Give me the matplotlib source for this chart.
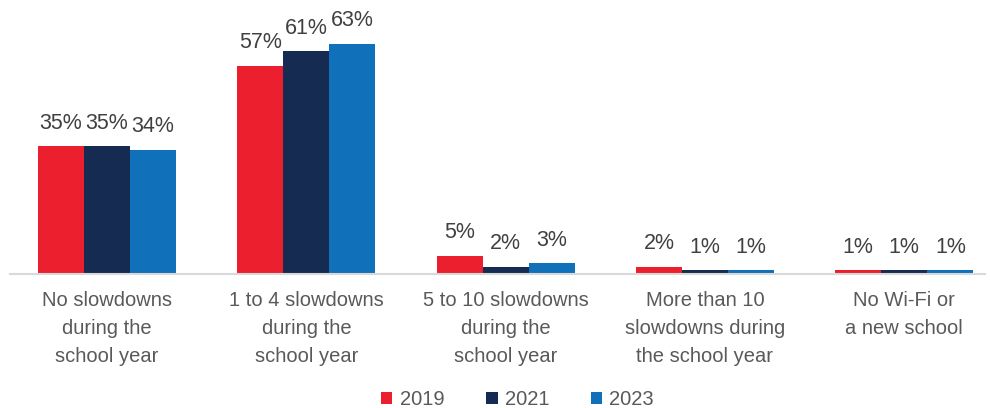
import matplotlib.pyplot as plt
import numpy as np

categories = [
    "No slowdowns\nduring the\nschool year",
    "1 to 4 slowdowns\nduring the\nschool year",
    "5 to 10 slowdowns\nduring the\nschool year",
    "More than 10\nslowdowns during\nthe school year",
    "No Wi-Fi or\na new school",
]
years = ["2019", "2021", "2023"]
vals_2019 = [35, 57, 5, 2, 1]
vals_2021 = [35, 61, 2, 1, 1]
vals_2023 = [34, 63, 3, 1, 1]
colors = ["#EC1F2F", "#152B52", "#1170BA"]

plt.rcParams["font.family"] = ["Liberation Sans", "DejaVu Sans"]

fig = plt.figure(figsize=(9.9, 4.08), dpi=100)
ax = fig.add_axes([10 / 990, 1 - 274 / 408, 975 / 990, 274 / 408])

x = np.arange(len(categories))
w = 0.231
series = [vals_2019, vals_2021, vals_2023]
for i, (yr, vals, c) in enumerate(zip(years, series, colors)):
    pos = x + (i - 1) * w
    bars = ax.bar(pos, vals, width=w, color=c, label=yr, zorder=2)
    for b, v in zip(bars, vals):
        ax.text(b.get_x() + b.get_width() / 2, v + 3.4, f"{v}%",
                ha="center", va="bottom", fontsize=15.5, color="#404040")

ax.set_xlim(-0.487, 4.405)
ax.set_ylim(0, 75)
ax.set_yticks([])
ax.set_xticks(x)
ax.set_xticklabels(categories, fontsize=14.5, color="#595959")
for lbl in ax.get_xticklabels():
    lbl.set_linespacing(1.6)
ax.tick_params(axis="x", length=0, pad=12)
for s in ["top", "right", "left"]:
    ax.spines[s].set_visible(False)
ax.spines["bottom"].set_color("#D9D9D9")
ax.spines["bottom"].set_linewidth(1.5)

fig.legend(loc="center", bbox_to_anchor=(0.523, 0.02), ncol=3, frameon=False,
           fontsize=14.5, handlelength=0.55, handleheight=0.55, handletextpad=0.35,
           columnspacing=2.1, labelcolor="#595959", borderpad=0)

fig.savefig("out.png", dpi=100)
